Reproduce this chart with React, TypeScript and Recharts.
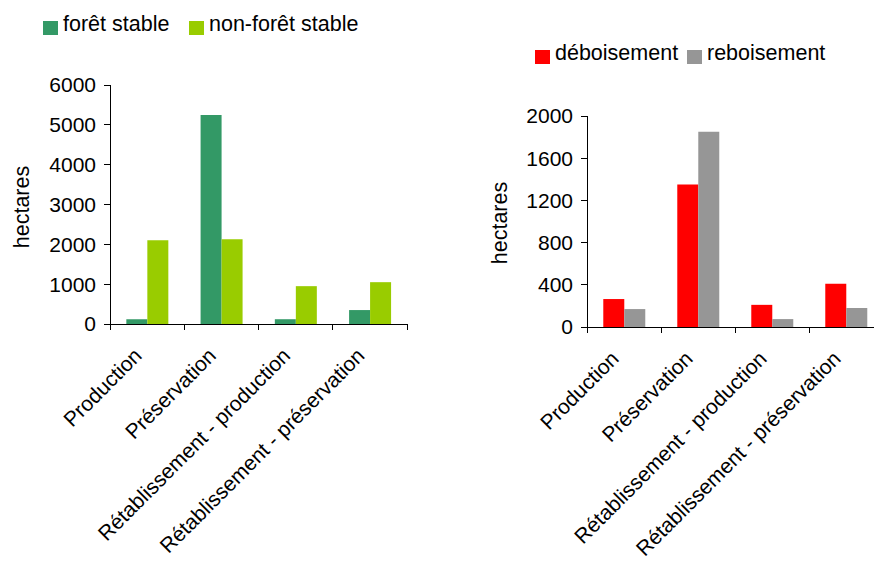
import React from "react";
import { BarChart, Bar, XAxis, YAxis } from "recharts";

const categories = [
  "Production",
  "Préservation",
  "Rétablissement - production",
  "Rétablissement - préservation",
];

const foretStable = [120, 5250, 120, 350];
const nonForetStable = [2100, 2130, 950, 1050];
const deboisement = [265, 1350, 210, 410];
const reboisement = [170, 1850, 75, 180];

// y scales: 0..6000 step 1000, 0..2000 step 400
const leftMax = 6000;
const leftTickCount = 7;
const rightMax = 2000;
const rightTickCount = 6;

const FONT = "'Liberation Sans', Arial, sans-serif";
const TICK = 6;
const X_AXIS_H = 200;

const leftSeries = [
  { key: "foret", name: "forêt stable", color: "#339966" },
  { key: "nonForet", name: "non-forêt stable", color: "#99CC00" },
];
const rightSeries = [
  { key: "deboisement", name: "déboisement", color: "#FF0000" },
  { key: "reboisement", name: "reboisement", color: "#969696" },
];

const stableData = categories.map((name, i) => ({
  name,
  foret: foretStable[i],
  nonForet: nonForetStable[i],
}));

const changeData = categories.map((name, i) => ({
  name,
  deboisement: deboisement[i],
  reboisement: reboisement[i],
}));

const leftMargin = { top: 85, right: 33, bottom: 38, left: 40 };
const rightMargin = { top: 116, right: 7, bottom: 35, left: 67 };
const plotHeight = (h: number, m: any) => h - m.top - m.bottom - X_AXIS_H;

// category tick: baseline segment for the band, tick marks on the band
// edges and the rotated label, anchored at the end of the text
function CategoryTick(props: any) {
  const { x, y, payload, index } = props;
  const half = payload.offset || 37;
  const last = index === categories.length - 1;
  const ax = x - 4;
  const ay = y + 33;
  return (
    <g>
      <line x1={x - half} y1={y} x2={x + half} y2={y} stroke="#000" shapeRendering="crispEdges" />
      <line x1={x - half} y1={y} x2={x - half} y2={y + TICK} stroke="#000" shapeRendering="crispEdges" />
      {last && (
        <line x1={x + half} y1={y} x2={x + half} y2={y + TICK} stroke="#000" shapeRendering="crispEdges" />
      )}
      <text
        x={ax}
        y={ay}
        transform={`rotate(-45, ${ax}, ${ay})`}
        textAnchor="end"
        fontSize={21}
        fontFamily={FONT}
        fill="#000"
      >
        {payload.value}
      </text>
    </g>
  );
}

// value tick: tick mark and label; the zero tick also draws the axis line
function makeValueTick(axisHeight: number) {
  return (props: any) => {
    const { x, y, payload } = props;
    return (
      <g>
        <line x1={x - TICK} y1={y} x2={x} y2={y} stroke="#000" shapeRendering="crispEdges" />
        {payload.value === 0 && (
          <line x1={x} y1={y} x2={x} y2={y - axisHeight} stroke="#000" shapeRendering="crispEdges" />
        )}
        <text
          x={x - TICK - 8}
          y={y}
          dy="0.355em"
          textAnchor="end"
          fontSize={21}
          fontFamily={FONT}
          fill="#000"
        >
          {payload.value}
        </text>
      </g>
    );
  };
}

function LegendRow({ items, left, top, widths }: any) {
  return (
    <div
      style={{
        position: "absolute",
        left,
        top,
        display: "flex",
        fontFamily: FONT,
        fontSize: 21.5,
        lineHeight: "21px",
      }}
    >
      {items.map((it: any, i: number) => (
        <div key={it.key} style={{ display: "flex", alignItems: "flex-start", width: widths[i] }}>
          <span
            style={{
              display: "inline-block",
              width: 15,
              height: 14,
              marginTop: 7,
              marginRight: 5,
              background: it.color,
            }}
          />
          <span style={{ color: "#000", whiteSpace: "nowrap" }}>{it.name}</span>
        </div>
      ))}
    </div>
  );
}

function yLabel(x: number, y: number) {
  return () => (
    <text
      x={x}
      y={y}
      transform={`rotate(-90, ${x}, ${y})`}
      textAnchor="middle"
      fontSize={21.5}
      fontFamily={FONT}
      fill="#000"
    >
      hectares
    </text>
  );
}

export default function App() {
  const LeftValueTick = makeValueTick(plotHeight(562, leftMargin));
  const RightValueTick = makeValueTick(plotHeight(562, rightMargin));
  return (
    <div
      style={{
        position: "absolute",
        left: 0,
        top: 0,
        width: 874,
        height: 562,
        overflow: "hidden",
        background: "#fff",
      }}
    >
      <LegendRow items={leftSeries} left={43} top={14} widths={[146, 200]} />
      <LegendRow items={rightSeries} left={535} top={43} widths={[152, 200]} />

      <div style={{ position: "absolute", left: 0, top: 0 }}>
        <BarChart
          width={440}
          height={562}
          data={stableData}
          margin={leftMargin}
          barCategoryGap="22%"
          barGap={0}
        >
          <XAxis
            dataKey="name"
            height={X_AXIS_H}
            axisLine={false}
            tickLine={false}
            tickSize={0}
            tickMargin={0}
            interval={0}
            tick={<CategoryTick />}
          />
          <YAxis
            width={70}
            domain={[0, leftMax]}
            tickCount={leftTickCount}
            axisLine={false}
            tickLine={false}
            tickSize={0}
            tickMargin={0}
            tick={<LeftValueTick />}
            label={yLabel(29, 207)}
          />
          {leftSeries.map((s) => (
            <Bar key={s.key} dataKey={s.key} name={s.name} fill={s.color} isAnimationActive={false} />
          ))}
        </BarChart>
      </div>

      <div style={{ position: "absolute", left: 440, top: 0 }}>
        <BarChart
          width={450}
          height={562}
          data={changeData}
          margin={rightMargin}
          barCategoryGap="22%"
          barGap={0}
        >
          <XAxis
            dataKey="name"
            height={X_AXIS_H}
            axisLine={false}
            tickLine={false}
            tickSize={0}
            tickMargin={0}
            interval={0}
            tick={<CategoryTick />}
          />
          <YAxis
            width={80}
            domain={[0, rightMax]}
            tickCount={rightTickCount}
            axisLine={false}
            tickLine={false}
            tickSize={0}
            tickMargin={0}
            tick={<RightValueTick />}
            label={yLabel(67, 223)}
          />
          {rightSeries.map((s) => (
            <Bar key={s.key} dataKey={s.key} name={s.name} fill={s.color} isAnimationActive={false} />
          ))}
        </BarChart>
      </div>
    </div>
  );
}
